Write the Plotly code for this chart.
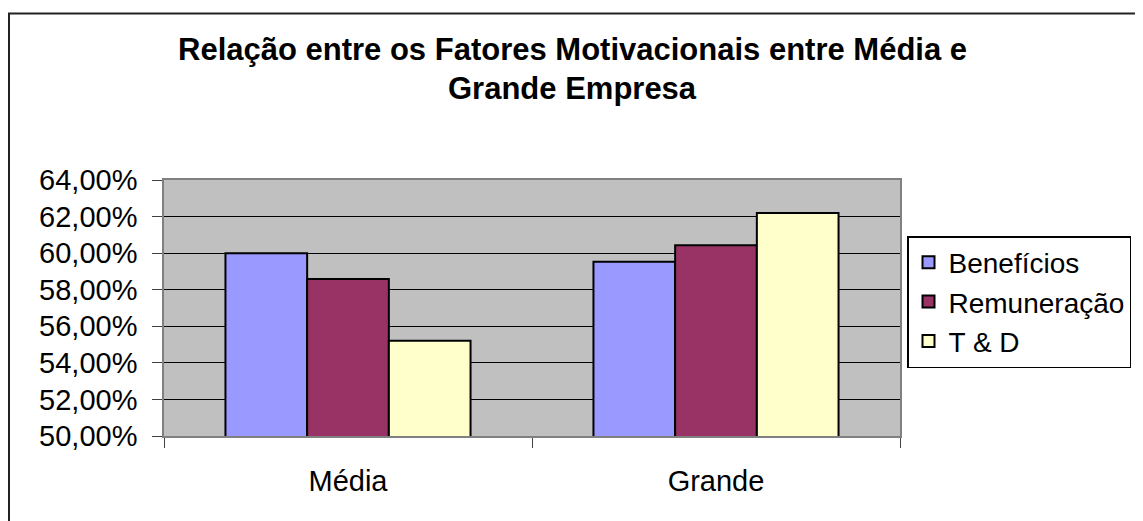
import plotly.graph_objects as go

# ---- data ----
categories = ["Média", "Grande"]
series_names = ["Benefícios", "Remuneração", "T & D"]
beneficios = [60.00, 59.53]
remuneracao = [58.58, 60.43]
t_e_d = [55.21, 62.19]
y_ticks = [50, 52, 54, 56, 58, 60, 62, 64]
y_tick_labels = [f"{v:.2f}".replace(".", ",") + "%" for v in y_ticks]
title_line1 = "Relação entre os Fatores Motivacionais entre Média e"
title_line2 = "Grande Empresa"

colors = ["#9999FF", "#993366", "#FFFFCC"]
series_values = [beneficios, remuneracao, t_e_d]

FONT = "Liberation Sans, Arial, sans-serif"
OFF = 8  # default page body margin
W, H = 1143 - OFF, 521 - OFF
# plot area in page pixels: x 164..900, y 180..436
L, R, T, B = 164 - OFF, 1143 - 900, 180 - OFF, 521 - 436
pw, ph = W - L - R, H - T - B


def px_x(px):
    """page pixel x -> paper fraction"""
    return (px - OFF - L) / pw


def px_y(py):
    """page pixel y -> paper fraction"""
    return (H - B - (py - OFF)) / ph


fig = go.Figure()
for name, vals, col in zip(series_names, series_values, colors):
    fig.add_trace(go.Bar(
        x=categories, y=vals, name=name,
        marker=dict(color=col, line=dict(color="black", width=2)),
    ))

fig.update_layout(
    width=W, height=H,
    margin=dict(l=L, r=R, t=T, b=B, autoexpand=False),
    paper_bgcolor="white",
    plot_bgcolor="#C0C0C0",
    barmode="group",
    bargap=0.334,
    bargroupgap=0,
    font=dict(family=FONT, size=29, color="black"),
    showlegend=True,
    legend=dict(
        x=px_x(907), y=px_y(236), xanchor="left", yanchor="top",
        bordercolor="black", borderwidth=1.5, bgcolor="white",
        font=dict(family=FONT, size=28, color="black"),
        tracegroupgap=0,
    ),
    xaxis=dict(
        type="category",
        showline=True, linecolor="#808080", linewidth=1.5, mirror=True,
        ticks="outside", tickson="boundaries", ticklen=10, tickcolor="#404040",
        tickfont=dict(family=FONT, size=29, color="black"),
        ticklabelstandoff=18,
        showgrid=False,
    ),
    yaxis=dict(
        range=[50, 64], tickvals=y_ticks, ticktext=y_tick_labels,
        showline=True, linecolor="#808080", linewidth=1.5, mirror=True,
        ticks="outside", ticklen=10, tickcolor="#404040",
        ticklabelstandoff=9,
        showgrid=True, gridcolor="black", gridwidth=1,
        zeroline=False,
        tickfont=dict(family=FONT, size=29, color="black"),
    ),
    annotations=[
        dict(text="<b>" + title_line1 + "</b>", xref="paper", yref="paper",
             x=px_x(572), y=px_y(49), xanchor="center", yanchor="middle",
             showarrow=False, font=dict(family=FONT, size=31, color="black")),
        dict(text="<b>" + title_line2 + "</b>", xref="paper", yref="paper",
             x=px_x(572), y=px_y(88), xanchor="center", yanchor="middle",
             showarrow=False, font=dict(family=FONT, size=31, color="black")),
    ],
    shapes=[
        dict(type="rect", xref="paper", yref="paper",
             x0=px_x(9), x1=px_x(1170), y0=px_y(560), y1=px_y(13.5),
             line=dict(color="#222222", width=2), fillcolor="rgba(0,0,0,0)",
             layer="below"),
    ],
)

fig.write_html("out.html")
